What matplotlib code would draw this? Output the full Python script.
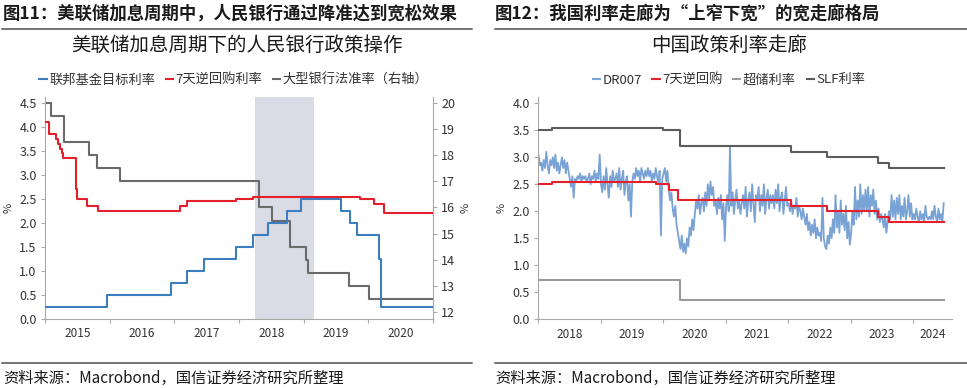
import matplotlib
matplotlib.use('Agg')
import matplotlib.pyplot as plt
import matplotlib.dates as mdates
import pandas as pd
from matplotlib.lines import Line2D

plt.rcParams['font.family'] = ['Noto Sans CJK SC', 'DejaVu Sans']

# ---------------- data: left chart ----------------
fed_dates = ['2015-01-01', '2015-12-17', '2016-12-15', '2017-03-16', '2017-06-15',
             '2017-12-14', '2018-03-22', '2018-06-14', '2018-09-27', '2018-12-20',
             '2019-08-01', '2019-09-19', '2019-10-31', '2020-03-04', '2020-03-16']
fed_vals = [0.25, 0.50, 0.75, 1.00, 1.25, 1.50, 1.75, 2.00, 2.25, 2.50,
            2.25, 2.00, 1.75, 1.25, 0.25]
left_end = '2020-12-31'

rr_l_dates = ['2015-01-06', '2015-01-22', '2015-03-05', '2015-03-17', '2015-03-24',
              '2015-04-07', '2015-04-14', '2015-06-25', '2015-06-30', '2015-08-27',
              '2015-10-27', '2017-02-03', '2017-03-16', '2017-12-14', '2018-03-22',
              '2019-11-18', '2020-02-03', '2020-03-30']
rr_l_vals = [4.10, 3.85, 3.75, 3.65, 3.55, 3.45, 3.35, 2.70, 2.50, 2.35,
             2.25, 2.35, 2.45, 2.50, 2.55, 2.50, 2.40, 2.20]

rrr_dates = ['2015-01-05', '2015-02-05', '2015-04-20', '2015-09-06', '2015-10-24',
             '2016-03-01', '2018-04-25', '2018-07-05', '2018-10-15', '2019-01-15',
             '2019-01-25', '2019-09-16', '2020-01-06']
rrr_vals = [20.0, 19.5, 18.5, 18.0, 17.5, 17.0, 16.0, 15.5, 14.5, 14.0, 13.5, 13.0, 12.5]

shade_start, shade_end = '2018-04-01', '2019-03-01'
left_years = [2015, 2016, 2017, 2018, 2019, 2020]

# ---------------- data: right chart ----------------
slf_dates = ['2018-01-02', '2018-03-22', '2019-12-31', '2020-04-10', '2022-01-20',
             '2022-08-15', '2023-06-13', '2023-08-15']
slf_vals = [3.50, 3.55, 3.50, 3.20, 3.10, 3.00, 2.90, 2.80]

rr_r_dates = ['2018-01-02', '2018-03-22', '2019-11-18', '2020-02-03', '2020-03-30',
              '2022-01-17', '2022-08-15', '2023-06-13', '2023-08-15']
rr_r_vals = [2.50, 2.55, 2.50, 2.40, 2.20, 2.10, 2.00, 1.90, 1.80]

ex_dates = ['2018-01-02', '2020-04-07']
ex_vals = [0.72, 0.35]
right_end = '2024-06-30'

dr007 = [
    # 2018
    3.05, 2.85, 2.90, 2.75, 2.95, 2.80, 3.10, 2.85, 2.70, 2.95, 2.85, 3.00,
    2.80, 3.05, 2.75, 2.90, 2.70, 2.85, 3.00, 2.80, 2.95, 2.70, 2.90, 2.75,
    2.60, 2.45, 2.65, 2.25, 2.60, 2.55, 2.65, 2.60, 2.70, 2.55, 2.65, 2.60,
    2.65, 2.55, 2.60, 2.70, 2.50, 2.65, 2.60, 2.75, 2.55, 2.70, 2.60, 3.05,
    # 2019
    2.50, 2.35, 2.65, 2.40, 2.80, 2.50, 2.25, 2.65, 2.45, 2.75, 2.55, 2.60,
    2.70, 2.45, 2.80, 2.40, 2.60, 2.75, 2.30, 2.55, 2.65, 2.20, 2.50, 1.90,
    2.55, 2.70, 2.60, 2.80, 2.65, 2.75, 2.55, 2.80, 2.70, 2.60, 2.75, 2.65,
    2.80, 2.65, 2.75, 2.55, 2.70, 2.60, 2.80, 2.65, 2.50, 2.75, 1.55, 2.60,
    # 2020
    2.70, 2.80, 2.55, 2.75, 2.40, 2.20, 2.35, 2.05, 1.90, 2.10, 1.75, 1.60,
    1.45, 1.30, 1.55, 1.25, 1.40, 1.22, 1.50, 1.35, 1.70, 1.55, 1.85, 1.65,
    1.95, 2.20, 2.05, 2.30, 1.95, 2.15, 2.25, 2.00, 2.35, 2.10, 2.50, 2.20,
    2.55, 2.30, 2.45, 2.10, 2.20, 1.95, 2.25, 2.05, 2.30, 1.85, 2.15, 1.45,
    # 2021
    2.10, 2.30, 2.00, 3.20, 2.10, 2.35, 1.95, 2.20, 2.40, 2.05, 2.20, 1.95,
    2.15, 2.30, 2.05, 2.45, 1.90, 2.20, 2.35, 2.00, 2.50, 2.15, 1.80, 2.30,
    2.20, 2.45, 2.00, 2.30, 2.10, 2.50, 1.95, 2.25, 2.40, 2.05, 2.30, 2.15,
    2.30, 2.05, 2.40, 2.15, 2.50, 2.00, 2.25, 2.35, 1.95, 2.20, 2.45, 2.10,
    # 2022
    2.15, 2.00, 2.20, 1.95, 2.10, 2.05, 2.25, 1.90, 2.10, 2.00, 1.85, 2.05,
    1.90, 1.75, 1.95, 1.65, 1.80, 1.55, 1.75, 1.60, 1.85, 1.50, 1.70, 1.55,
    1.60, 1.45, 2.25, 1.50, 1.35, 1.30, 1.55, 1.40, 1.70, 1.50, 1.85, 1.60,
    2.30, 1.70, 2.00, 1.60, 2.20, 1.75, 1.95, 1.65, 2.10, 1.50, 1.80, 1.38,
    # 2023
    1.60, 2.00, 1.75, 2.45, 1.85, 2.20, 1.90, 2.50, 1.95, 2.30, 2.00, 2.40,
    2.00, 2.45, 1.90, 2.30, 2.10, 2.40, 1.95, 2.20, 1.85, 2.05, 1.80, 1.95,
    1.85, 1.70, 1.95, 1.60, 1.80, 2.00, 1.85, 2.30, 1.90, 2.20, 1.85, 2.25,
    1.95, 2.30, 1.85, 2.10, 1.90, 2.25, 1.85, 2.00, 2.30, 1.90, 2.15, 1.85,
    # 2024
    1.95, 1.85, 2.05, 1.90, 1.80, 2.00, 1.85, 1.95, 1.80, 2.10, 1.90, 1.85,
    1.90, 1.85, 2.00, 1.85, 2.10, 1.90, 1.80, 2.05, 1.85, 1.95, 1.80, 2.15,
]
dr_start, dr_end = '2018-01-02', '2024-06-28'
right_years = [2018, 2019, 2020, 2021, 2022, 2023, 2024]
right_xmax = '2024-08-14'

# ---------------- styling ----------------
C_BLUE = '#3d7ec3'
C_RED = '#e3212d'
C_GRAY = '#6a6a6a'
C_DR = '#79a2d5'
C_SLF = '#5c5c5c'
C_EX = '#9b9b9b'
C_SPINE = '#a8a8a8'
C_TXT = '#333333'
LW = 1.5

W, H = 967, 388
fig = plt.figure(figsize=(W / 100, H / 100), dpi=100)


def fx(px):
    return px / W


def fy(py):
    return 1 - py / H


def step(ax, dates, vals, end, **kw):
    x = pd.to_datetime(list(dates) + [end])
    y = list(vals) + [vals[-1]]
    ax.step(x, y, where='post', **kw)


def style_axes(ax, years, xmin, xmax):
    ax.set_xlim(pd.Timestamp(xmin), pd.Timestamp(xmax))
    major = [pd.Timestamp(f'{y}-01-01') for y in years] + [pd.Timestamp(f'{years[-1] + 1}-01-01')]
    major = [m for m in major if pd.Timestamp(xmin) <= m <= pd.Timestamp(xmax)]
    ax.set_xticks(major)
    ax.set_xticklabels([])
    mids = []
    for y in years:
        a = max(pd.Timestamp(f'{y}-01-01'), pd.Timestamp(xmin))
        b = min(pd.Timestamp(f'{y + 1}-01-01'), pd.Timestamp(xmax))
        mids.append(a + (b - a) / 2)
    ax.set_xticks(mids, minor=True)
    ax.set_xticklabels([str(y) for y in years], minor=True)
    ax.tick_params(axis='x', which='minor', length=0, pad=6, labelsize=8.5, labelcolor=C_TXT)
    ax.tick_params(axis='x', which='major', length=3, color=C_SPINE, direction='out')
    ax.tick_params(axis='y', length=3, color=C_SPINE, direction='out', labelsize=9,
                   labelcolor=C_TXT, pad=3)
    for s in ['top', 'right']:
        ax.spines[s].set_visible(False)
    for s in ['left', 'bottom']:
        ax.spines[s].set_color(C_SPINE)
        ax.spines[s].set_linewidth(0.8)


# ---------------- left chart ----------------
axL = fig.add_axes([fx(45), fy(319), fx(433 - 45), (319 - 97) / H])
axR = axL.twinx()
axR.axvspan(pd.Timestamp(shade_start), pd.Timestamp(shade_end), color='#d9dce4', lw=0, zorder=0)
step(axR, rrr_dates, rrr_vals, left_end, color=C_GRAY, lw=LW, zorder=2)
axR.set_ylim(11.73, 20.23)
axR.set_yticks(range(12, 21))
for s in ['top', 'left', 'bottom']:
    axR.spines[s].set_visible(False)
axR.spines['right'].set_color(C_SPINE)
axR.spines['right'].set_linewidth(0.8)
axR.tick_params(axis='y', length=3, color=C_SPINE, direction='out', labelsize=9,
                labelcolor=C_TXT, pad=3)
axR.set_ylabel('%', fontsize=8, color=C_TXT, labelpad=4, rotation=90)

step(axL, fed_dates, fed_vals, left_end, color=C_BLUE, lw=LW, zorder=3)
step(axL, rr_l_dates, rr_l_vals, left_end, color=C_RED, lw=LW, zorder=3)
axL.set_ylim(0, 4.625)
axL.set_yticks([0, 0.5, 1.0, 1.5, 2.0, 2.5, 3.0, 3.5, 4.0, 4.5])
axL.yaxis.set_major_formatter(matplotlib.ticker.FormatStrFormatter('%.1f'))
style_axes(axL, left_years, '2015-01-01', '2021-01-01')
axL.set_ylabel('%', fontsize=8, color=C_TXT, labelpad=4)
axL.set_zorder(axR.get_zorder() + 1)
axL.patch.set_visible(False)

hL = [Line2D([], [], color=C_BLUE, lw=LW), Line2D([], [], color=C_RED, lw=LW),
      Line2D([], [], color=C_GRAY, lw=LW)]
fig.legend(hL, ['联邦基金目标利率', '7天逆回购利率', '大型银行法准率（右轴）'],
           loc='center', bbox_to_anchor=(fx(234), fy(80)), ncol=3, frameon=False,
           fontsize=9.5, handlelength=0.55, handletextpad=0.2, columnspacing=0.8,
           labelcolor=C_TXT)

# ---------------- right chart ----------------
ax2 = fig.add_axes([fx(538.3), fy(319.3), fx(951.7 - 538.3), (319.3 - 97) / H])
dr_x = pd.date_range(dr_start, dr_end, periods=len(dr007))
ax2.plot(dr_x, dr007, color=C_DR, lw=1.3, zorder=2)
step(ax2, rr_r_dates, rr_r_vals, right_end, color=C_RED, lw=LW, zorder=3)
step(ax2, slf_dates, slf_vals, right_end, color=C_SLF, lw=LW, zorder=3)
step(ax2, ex_dates, ex_vals, right_end, color=C_EX, lw=LW, zorder=3)
ax2.set_ylim(0, 4.115)
ax2.set_yticks([0, 0.5, 1.0, 1.5, 2.0, 2.5, 3.0, 3.5, 4.0])
ax2.yaxis.set_major_formatter(matplotlib.ticker.FormatStrFormatter('%.1f'))
style_axes(ax2, right_years, '2018-01-01', right_xmax)
ax2.set_ylabel('%', fontsize=8, color=C_TXT, labelpad=4)

h2 = [Line2D([], [], color=C_DR, lw=LW), Line2D([], [], color=C_RED, lw=LW),
      Line2D([], [], color=C_EX, lw=LW), Line2D([], [], color=C_SLF, lw=LW)]
fig.legend(h2, ['DR007', '7天逆回购', '超储利率', 'SLF利率'],
           loc='center', bbox_to_anchor=(fx(729), fy(80)), ncol=4, frameon=False,
           fontsize=9.5, handlelength=0.55, handletextpad=0.2, columnspacing=0.8,
           labelcolor=C_TXT)

# ---------------- captions, titles, rules ----------------
fig.text(fx(3), fy(14), '图11：美联储加息周期中，人民银行通过降准达到宽松效果',
         fontsize=12.5, fontweight='bold', color='#1a1a1a', va='center', ha='left')
fig.text(fx(495), fy(14), '图12：我国利率走廊为“上窄下宽”的宽走廊格局',
         fontsize=12.5, fontweight='bold', color='#1a1a1a', va='center', ha='left')
fig.text(fx(237), fy(45), '美联储加息周期下的人民银行政策操作', fontsize=14,
         color='#1a1a1a', va='center', ha='center')
fig.text(fx(729), fy(45), '中国政策利率走廊', fontsize=14,
         color='#1a1a1a', va='center', ha='center')
for x0, x1 in [(2, 472), (495, 967)]:
    for yy in [28.5, 362.5]:
        fig.add_artist(Line2D([fx(x0), fx(x1)], [fy(yy), fy(yy)], transform=fig.transFigure,
                              color='#505050', lw=1.1))
fig.text(fx(3), fy(378), '资料来源：Macrobond，国信证券经济研究所整理', fontsize=11,
         color='#1a1a1a', va='center', ha='left')
fig.text(fx(495), fy(378), '资料来源：Macrobond，国信证券经济研究所整理', fontsize=11,
         color='#1a1a1a', va='center', ha='left')

fig.savefig('out.png', dpi=100)
